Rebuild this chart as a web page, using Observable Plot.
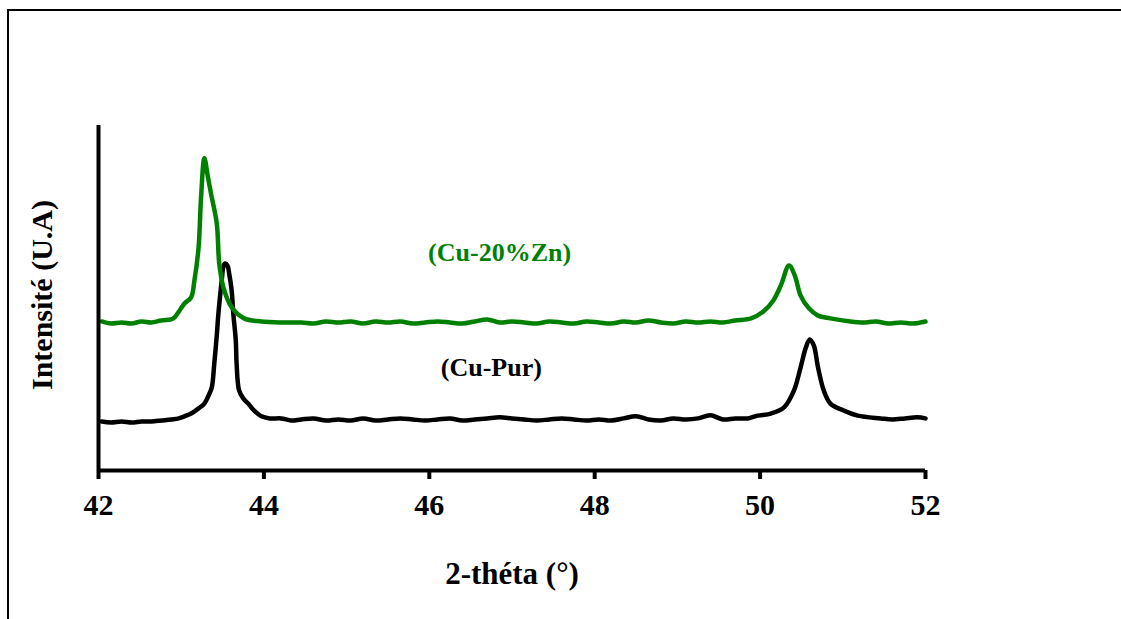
<!DOCTYPE html>
<html>
<head>
<meta charset="utf-8">
<script src="https://cdn.jsdelivr.net/npm/d3@7"></script>
<script src="https://cdn.jsdelivr.net/npm/@observablehq/plot@0.6"></script>
<style>
  html, body { margin: 0; padding: 0; background: #fff; }
  #wrap { position: relative; width: 1121px; height: 619px; overflow: hidden; }
  #frame { position: absolute; left: 7px; top: 9px; right: -10px; bottom: -10px;
           border-top: 2px solid #000; border-left: 2px solid #000; pointer-events: none; }
</style>
</head>
<body>
<div id="wrap"><div id="chart"></div><div id="frame"></div></div>
<script>
// 2-théta (°) and intensity (U.A) for pure copper
const cuPurTheta = [42.04,42.15,42.28,42.40,42.52,42.64,42.76,42.88,42.97,43.06,43.12,43.21,43.28,43.33,43.37,43.40,43.43,43.45,43.49,43.51,43.53,43.56,43.58,43.61,43.63,43.66,43.67,43.70,43.75,43.81,43.88,43.97,44.07,44.21,44.33,44.45,
  44.60,44.75,44.90,45.05,45.20,45.35,45.50,45.65,45.80,45.95,46.10,46.25,46.40,46.55,46.70,46.85,47.00,47.15,47.30,47.45,47.60,47.75,47.90,48.05,48.20,48.35,48.50,48.65,48.80,48.95,49.10,49.25,49.40,49.55,49.70,49.85,
  49.97,50.13,50.29,50.41,50.49,50.55,50.60,50.65,50.70,50.77,50.85,51.01,51.18,51.46,51.60,51.75,51.90,52.00];
const cuPurI = [142,139,142,139,142,142,145,148,151,159,165,180,194,217,241,310,391,455,551,591,600,594,571,522,455,377,310,232,209,194,174,157,151,151,145,148,
  151,145,148,145,151,145,148,151,148,145,148,151,145,148,151,154,151,148,145,148,151,148,145,148,145,151,157,148,145,151,148,151,160,148,151,151,
  159,165,183,232,299,354,380,362,299,232,194,174,159,151,148,151,154,151];

// 2-théta (°) and intensity (U.A) for Cu-20%Zn
const cuZnTheta = [42.04,42.15,42.28,42.40,42.52,42.64,42.76,42.88,42.92,43.04,43.12,43.16,43.21,43.24,43.28,43.32,43.36,43.43,43.46,43.51,43.61,43.76,43.97,44.21,44.45,
  44.60,44.75,44.90,45.05,45.20,45.35,45.50,45.65,45.80,45.95,46.10,46.25,46.40,46.55,46.70,46.85,47.00,47.15,47.30,47.45,47.60,47.75,47.90,48.05,48.20,48.35,48.50,48.65,48.80,48.95,49.10,49.25,49.40,49.55,49.70,
  49.89,50.04,50.16,50.25,50.35,50.42,50.49,50.59,50.70,50.85,51.09,51.25,51.40,51.55,51.70,51.85,52.00];
const cuZnI = [432,426,429,426,432,429,435,438,444,484,502,551,646,791,905,855,803,716,600,531,473,441,432,429,429,
  426,432,429,432,426,432,429,432,426,429,432,429,426,432,438,429,432,429,426,432,429,426,432,429,426,432,429,435,429,426,432,429,432,429,435,
  441,461,493,536,594,565,507,470,449,441,432,429,432,426,429,426,432];

const xTicks = [42, 44, 46, 48, 50, 52];
const seriesNames = ["(Cu-Pur)", "(Cu-20%Zn)"];
const seriesColors = ["#000000", "#008000"];
const labelTheta = [46.75, 46.85];
const labelI = [299, 632];

const pur = cuPurTheta.map((t, i) => ({theta: t, I: cuPurI[i]}));
const zn = cuZnTheta.map((t, i) => ({theta: t, I: cuZnI[i]}));
const labels = seriesNames.map((s, i) => ({name: s, theta: labelTheta[i], I: labelI[i], color: seriesColors[i]}));

const font = "Liberation Serif, Times New Roman, serif";

const chart = Plot.plot({
  width: 1121,
  height: 619,
  marginLeft: 98,
  marginRight: 196,
  marginTop: 125,
  marginBottom: 149,
  style: {background: "transparent", color: "#000"},
  x: {domain: [42, 52]},
  y: {domain: [0, 1000]},
  marks: [
    Plot.line(pur, {x: "theta", y: "I", stroke: seriesColors[0], strokeWidth: 4.5, curve: "catmull-rom"}),
    Plot.line(zn, {x: "theta", y: "I", stroke: seriesColors[1], strokeWidth: 4.5, curve: "catmull-rom"}),
    Plot.ruleX([42], {stroke: "#000", strokeWidth: 4}),
    Plot.ruleY([0], {stroke: "#000", strokeWidth: 4, x1: 42, x2: 52}),
    Plot.axisX({ticks: xTicks, tickSize: 9, strokeWidth: 4, tickPadding: 14, fontSize: 30, fontFamily: font, fontWeight: "bold", label: null, tickFormat: d => String(d)}),
    Plot.axisY({ticks: [], label: null}),
    Plot.text(labels, {x: "theta", y: "I", text: "name", fill: "color", fontSize: 26, fontFamily: font, fontWeight: "bold"}),
    Plot.text(["2-théta (°)"], {frameAnchor: "bottom", textAnchor: "middle", lineAnchor: "middle", dy: 104, fontSize: 31, fontFamily: font, fontWeight: "bold", fill: "#000"}),
    Plot.text(["Intensité (U.A)"], {frameAnchor: "left", textAnchor: "middle", lineAnchor: "middle", dx: -56, dy: -3, rotate: -90, fontSize: 30, fontFamily: font, fontWeight: "bold", fill: "#000"})
  ]
});
document.getElementById("chart").appendChild(chart);
</script>
</body>
</html>
